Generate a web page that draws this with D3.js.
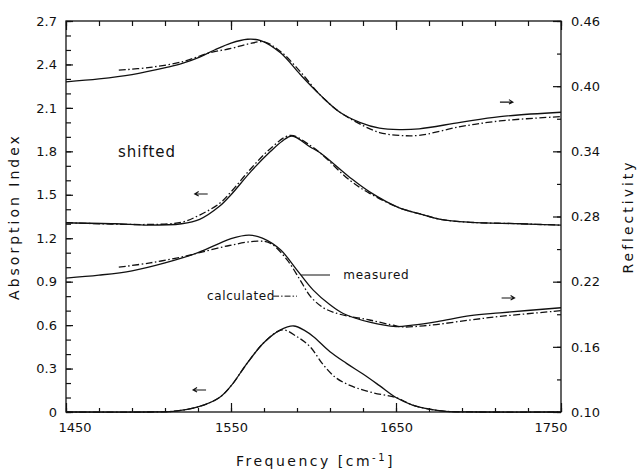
<!DOCTYPE html>
<html>
<head>
<meta charset="utf-8">
<script src="https://cdn.jsdelivr.net/npm/d3@7"></script>
<style>
  body { margin: 0; background: #fff; }
  svg { display: block; }
  text { font-family: "DejaVu Sans", sans-serif; fill: #111; }
  .curve { fill: none; stroke: #111; stroke-width: 1.3; }
  .calc { stroke-dasharray: 7 2.5 1.5 2.5; }
  .tick line { stroke: #111; stroke-width: 1.2; }
</style>
</head>
<body>
<svg id="chart" width="639" height="473"></svg>
<script>
const width = 639, height = 473;
const plotLeft = 66, plotRight = 561, plotTop = 21, plotBottom = 412;

// axis ticks
const freqTicks = [1450, 1550, 1650, 1750];
const freqMinor = d3.range(1450, 1751, 20);
const absTicks = [0, 0.3, 0.6, 0.9, 1.2, 1.5, 1.8, 2.1, 2.4, 2.7];
const absMinor = d3.range(0, 28).map(i => i / 10);
const reflTicks = [0.10, 0.16, 0.22, 0.28, 0.34, 0.40, 0.46];
const reflMinor = d3.range(0, 13).map(i => 0.10 + i * 0.03);

// top pair: reflectivity [freq, R]
const reflTopMeasured = [[1450,0.404],[1470,0.4067],[1490,0.4107],[1511,0.4173],[1520,0.4207],[1531,0.4267],[1540,0.4333],[1550,0.4397],[1560,0.4432],[1568,0.442],[1580,0.4307],[1592,0.4107],[1604,0.392],[1616,0.376],[1628,0.3667],[1640,0.3613],[1652,0.36],[1664,0.3607],[1689,0.3667],[1713,0.372],[1750,0.376]];
const reflTopCalculated = [[1482,0.4147],[1501,0.4173],[1521,0.4227],[1537,0.4307],[1550,0.4347],[1560,0.4387],[1570,0.4407],[1580,0.432],[1592,0.4133],[1604,0.392],[1616,0.376],[1628,0.3653],[1640,0.3573],[1652,0.3547],[1664,0.3547],[1689,0.3627],[1713,0.368],[1750,0.372]];

// second pair: shifted absorption index [freq, k]
const absShiftedMeasured = [[1450,1.307],[1480,1.30],[1500,1.29],[1520,1.30],[1531,1.33],[1543,1.42],[1550,1.50],[1562,1.66],[1574,1.80],[1581,1.87],[1587,1.906],[1598,1.83],[1604,1.79],[1622,1.62],[1634,1.52],[1652,1.41],[1664,1.37],[1677,1.33],[1695,1.31],[1725,1.30],[1750,1.29]];
const absShiftedCalculated = [[1450,1.307],[1500,1.295],[1520,1.31],[1531,1.36],[1543,1.44],[1550,1.52],[1562,1.68],[1574,1.82],[1586,1.91],[1598,1.84],[1604,1.79],[1622,1.60],[1634,1.51],[1652,1.41],[1664,1.37],[1677,1.33],[1695,1.31],[1725,1.30],[1750,1.29]];

// third pair: reflectivity [freq, R]
const reflMeasured = [[1450,0.2233],[1470,0.226],[1490,0.23],[1510,0.2373],[1530,0.2467],[1543,0.2553],[1550,0.2597],[1561,0.2629],[1569,0.26],[1580,0.2493],[1590,0.2307],[1600,0.212],[1610,0.1987],[1618,0.1907],[1634,0.1827],[1650,0.1787],[1660,0.18],[1675,0.1833],[1695,0.1887],[1713,0.1913],[1750,0.196]];
const reflCalculated = [[1482,0.2333],[1501,0.2373],[1520,0.2427],[1531,0.2467],[1549,0.2533],[1566,0.2573],[1574,0.2553],[1584,0.24],[1592,0.2213],[1598,0.2067],[1606,0.196],[1616,0.19],[1634,0.1847],[1650,0.1793],[1654,0.1783],[1671,0.18],[1695,0.1847],[1713,0.188],[1750,0.1933]];

// bottom pair: absorption index [freq, k]
const absMeasured = [[1450,0],[1500,0],[1515,0.005],[1530,0.035],[1543,0.10],[1550,0.18],[1560,0.34],[1570,0.48],[1580,0.567],[1588,0.594],[1595,0.56],[1600,0.52],[1610,0.416],[1620,0.336],[1630,0.262],[1640,0.182],[1650,0.10],[1660,0.048],[1670,0.02],[1680,0.005],[1700,0],[1750,0]];
const absCalculated = [[1450,0],[1500,0],[1515,0.005],[1530,0.035],[1543,0.10],[1550,0.18],[1560,0.34],[1570,0.48],[1581,0.567],[1590,0.52],[1598,0.45],[1606,0.325],[1614,0.233],[1624,0.175],[1636,0.133],[1650,0.10],[1660,0.048],[1670,0.02],[1680,0.005],[1700,0],[1750,0]];

// annotations in data coords (absorption-index units)
const arrows = [[1528, 1.505, -1], [1527, 0.152, -1], [1713, 2.14, 1], [1714, 0.787, 1]];

const svg = d3.select("#chart");
const x = d3.scaleLinear().domain([1450, 1750]).range([plotLeft, plotRight]);
const yAbs = d3.scaleLinear().domain([0, 2.7]).range([plotBottom, plotTop]);
const yRefl = d3.scaleLinear().domain([0.10, 0.46]).range([plotBottom, plotTop]);

//axes - ticks point inward, minor ticks drawn as separate unlabeled axes
function addAxis(axis, tx, ty, font) {
  const g = svg.append("g").attr("transform", `translate(${tx},${ty})`).call(axis);
  g.select(".domain").remove();
  g.selectAll("text").style("font-size", (font || 13) + "px");
  return g;
}
addAxis(d3.axisLeft(yAbs).tickValues(absMinor).tickSize(-5).tickFormat(""), plotLeft, 0);
addAxis(d3.axisLeft(yAbs).tickValues(absTicks).tickSize(-7).tickPadding(9).tickFormat(d => d === 0 ? "0" : d3.format(".1f")(d)), plotLeft, 0, 13);
addAxis(d3.axisRight(yRefl).tickValues(reflMinor).tickSize(-4).tickFormat(""), plotRight, 0);
addAxis(d3.axisRight(yRefl).tickValues(reflTicks).tickSize(-8).tickPadding(10).tickFormat(d3.format(".2f")), plotRight, 0, 13);
addAxis(d3.axisBottom(x).tickValues(freqMinor).tickSize(-4).tickFormat(""), 0, plotBottom);
const xb = addAxis(d3.axisBottom(x).tickValues(freqTicks).tickSize(-9).tickPadding(11).tickFormat(d3.format("d")), 0, plotBottom, 13);
xb.selectAll("text").filter(d => d === 1450).attr("text-anchor", "start").attr("x", -8);
xb.selectAll("text").filter(d => d === 1750).attr("text-anchor", "end").attr("x", 6);
addAxis(d3.axisTop(x).tickValues(freqMinor).tickSize(-5).tickFormat(""), 0, plotTop);
addAxis(d3.axisTop(x).tickValues(freqTicks).tickSize(-9).tickFormat(""), 0, plotTop);

svg.append("rect").attr("x", plotLeft).attr("y", plotTop).attr("width", plotRight - plotLeft).attr("height", plotBottom - plotTop)
  .attr("fill", "none").attr("stroke", "#111").attr("stroke-width", 1.3);

// curves
const smooth = d3.curveCatmullRom.alpha(0.5);
const lineAbs = d3.line().x(d => x(d[0])).y(d => yAbs(d[1])).curve(smooth);
const lineRefl = d3.line().x(d => x(d[0])).y(d => yRefl(d[1])).curve(smooth);
[[reflTopMeasured, lineRefl, ""], [reflTopCalculated, lineRefl, "calc"],
 [absShiftedMeasured, lineAbs, ""], [absShiftedCalculated, lineAbs, "calc"],
 [reflMeasured, lineRefl, ""], [reflCalculated, lineRefl, "calc"],
 [absMeasured, lineAbs, ""], [absCalculated, lineAbs, "calc"]].forEach(([data, line, cls]) => {
  svg.append("path").datum(data).attr("class", "curve " + cls).attr("d", line);
});

// arrows showing which axis a pair belongs to
arrows.forEach(([f, v, dir]) => {
  const x0 = x(f), x1 = x0 + 13, yy = yAbs(v);
  const tip = dir < 0 ? x0 : x1;
  svg.append("path")
    .attr("d", `M${x0},${yy}H${x1}M${tip - dir * 4},${yy - 2.5}L${tip},${yy}L${tip - dir * 4},${yy + 2}`)
    .attr("fill", "none").attr("stroke", "#111").attr("stroke-width", 1.1);
});

// labels
svg.append("text").attr("x", x(1481.5)).attr("y", yAbs(1.76)).style("font-size", "15px")
  .style("letter-spacing", "1px").text("shifted");
svg.append("text").attr("x", x(1618)).attr("y", yAbs(0.918)).style("font-size", "12px")
  .style("letter-spacing", "0.8px").text("measured");
svg.append("line").attr("x1", x(1592.5)).attr("x2", x(1610)).attr("y1", yAbs(0.946)).attr("y2", yAbs(0.946))
  .attr("stroke", "#111").attr("stroke-width", 1);
svg.append("text").attr("x", x(1535.5)).attr("y", yAbs(0.773)).style("font-size", "12px")
  .style("letter-spacing", "0.6px").text("calculated");
svg.append("line").attr("x1", x(1575.5)).attr("x2", x(1590)).attr("y1", yAbs(0.80)).attr("y2", yAbs(0.80))
  .attr("stroke", "#111").attr("stroke-width", 1).attr("stroke-dasharray", "6 2 1.5 2");

// axis titles
svg.append("text").attr("transform", `translate(19,${(plotTop + plotBottom) / 2}) rotate(-90)`)
  .attr("text-anchor", "middle").style("font-size", "14px").style("letter-spacing", "3px").text("Absorption Index");
svg.append("text").attr("transform", `translate(633,${(plotTop + plotBottom) / 2}) rotate(-90)`)
  .attr("text-anchor", "middle").style("font-size", "14px").style("letter-spacing", "3px").text("Reflectivity");
const xt = svg.append("text").attr("x", (plotLeft + plotRight) / 2 + 2).attr("y", 466).attr("text-anchor", "middle")
  .style("font-size", "14px").style("letter-spacing", "2.5px");
xt.append("tspan").text("Frequency [cm");
xt.append("tspan").attr("dy", -5).style("font-size", "10px").text("-1");
xt.append("tspan").attr("dy", 5).text("]");
</script>
</body>
</html>
